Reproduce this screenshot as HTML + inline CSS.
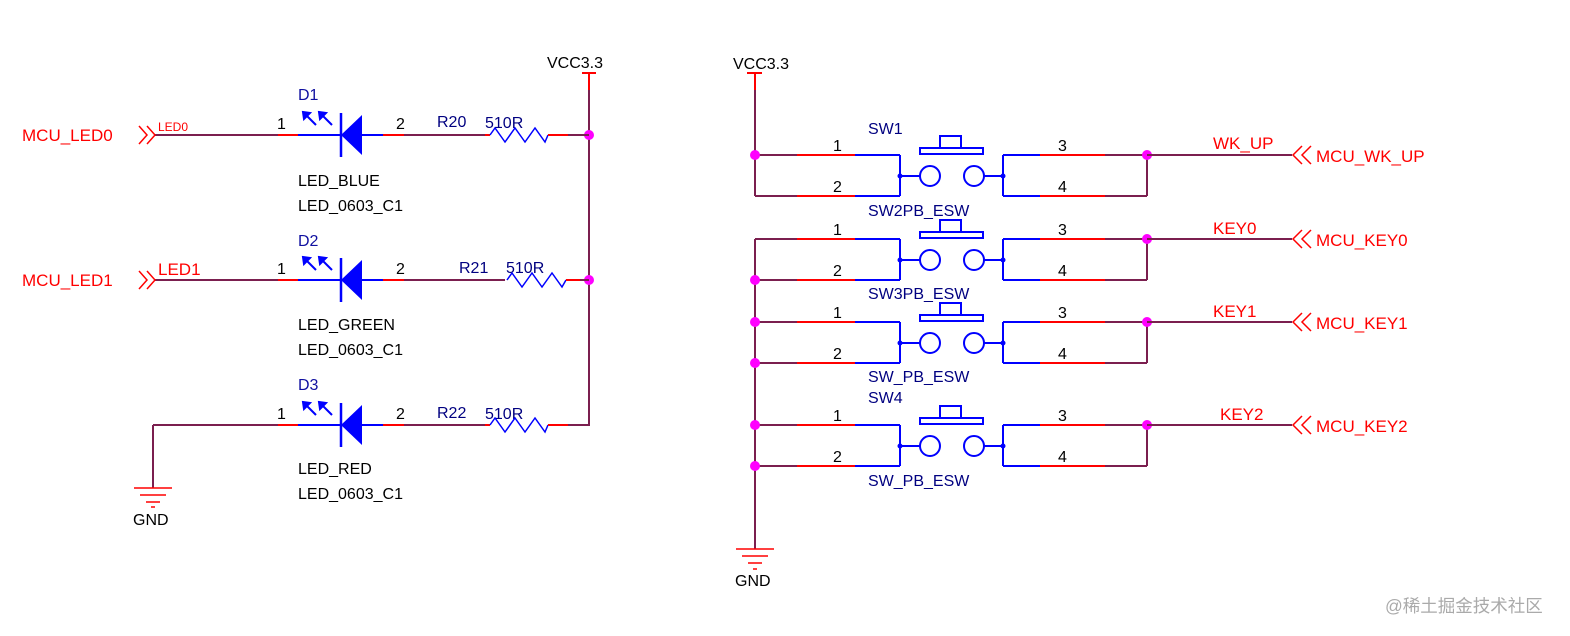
<!DOCTYPE html>
<html><head><meta charset="utf-8"><style>
body{margin:0;background:#fff;}
svg{display:block;font-family:"Liberation Sans",Arial,sans-serif;}
</style></head><body>
<svg width="1570" height="636" viewBox="0 0 1570 636" xmlns="http://www.w3.org/2000/svg">
<defs>
<g id="sw">
  <line x1="797" y1="0" x2="855" y2="0" stroke="#f00" stroke-width="2"/>
  <line x1="855" y1="0" x2="900" y2="0" stroke="#00f" stroke-width="2"/>
  <line x1="797" y1="41" x2="855" y2="41" stroke="#f00" stroke-width="2"/>
  <line x1="855" y1="41" x2="900" y2="41" stroke="#00f" stroke-width="2"/>
  <line x1="900" y1="0" x2="900" y2="41" stroke="#00f" stroke-width="2"/>
  <circle cx="900" cy="21" r="2.5" fill="#00f"/>
  <line x1="900" y1="21" x2="920" y2="21" stroke="#00f" stroke-width="2"/>
  <circle cx="930" cy="21" r="10" fill="none" stroke="#00f" stroke-width="2"/>
  <circle cx="974" cy="21" r="10" fill="none" stroke="#00f" stroke-width="2"/>
  <line x1="984" y1="21" x2="1003" y2="21" stroke="#00f" stroke-width="2"/>
  <circle cx="1003" cy="21" r="2.5" fill="#00f"/>
  <line x1="1003" y1="0" x2="1003" y2="41" stroke="#00f" stroke-width="2"/>
  <line x1="1003" y1="0" x2="1040" y2="0" stroke="#00f" stroke-width="2"/>
  <line x1="1040" y1="0" x2="1105" y2="0" stroke="#f00" stroke-width="2"/>
  <line x1="1003" y1="41" x2="1040" y2="41" stroke="#00f" stroke-width="2"/>
  <line x1="1040" y1="41" x2="1105" y2="41" stroke="#f00" stroke-width="2"/>
  <line x1="1105" y1="0" x2="1147" y2="0" stroke="#7b1f4f" stroke-width="2"/>
  <line x1="1105" y1="41" x2="1147" y2="41" stroke="#7b1f4f" stroke-width="2"/>
  <line x1="755" y1="0" x2="797" y2="0" stroke="#7b1f4f" stroke-width="2"/>
  <line x1="755" y1="41" x2="797" y2="41" stroke="#7b1f4f" stroke-width="2"/>
  <line x1="1147" y1="0" x2="1147" y2="41" stroke="#7b1f4f" stroke-width="2"/>
  <circle cx="1147" cy="0" r="5" fill="#f0f"/>
  <rect x="920" y="-7" width="63" height="6" fill="none" stroke="#00f" stroke-width="2"/>
  <rect x="940" y="-19" width="21" height="12" fill="none" stroke="#00f" stroke-width="2"/>
  <text x="833" y="-4" font-size="16">1</text>
  <text x="833" y="37" font-size="16">2</text>
  <text x="1058" y="-4" font-size="16">3</text>
  <text x="1058" y="37" font-size="16">4</text>
  <line x1="1147" y1="0" x2="1292" y2="0" stroke="#7b1f4f" stroke-width="2"/>
  <polyline points="1302,-9 1293,0 1302,9" fill="none" stroke="#f00" stroke-width="1.5"/>
  <polyline points="1311,-9 1302,0 1311,9" fill="none" stroke="#f00" stroke-width="1.5"/>
</g>
<g id="led">
  <line x1="155" y1="0" x2="278" y2="0" stroke="#7b1f4f" stroke-width="2"/>
  <line x1="278" y1="0" x2="298" y2="0" stroke="#f00" stroke-width="2"/>
  <line x1="298" y1="0" x2="341" y2="0" stroke="#00f" stroke-width="2"/>
  <line x1="341" y1="-22" x2="341" y2="22" stroke="#00f" stroke-width="2.5"/>
  <polygon points="341,0 362,-20 362,20" fill="#00f"/>
  <line x1="362" y1="0" x2="383" y2="0" stroke="#00f" stroke-width="2"/>
  <line x1="383" y1="0" x2="404" y2="0" stroke="#f00" stroke-width="2"/>
  <text x="277" y="-6" font-size="16">1</text>
  <text x="396" y="-6" font-size="16">2</text>
  <g stroke="#00f" stroke-width="2" fill="#00f">
    <line x1="306" y1="-20" x2="316" y2="-10"/><polygon points="303,-23 310,-22 304,-16"/>
    <line x1="322" y1="-20" x2="332" y2="-10"/><polygon points="319,-23 326,-22 320,-16"/>
  </g>
  <circle cx="589" cy="0" r="5" fill="#f0f"/>
</g>
</defs>

<text x="547" y="68" font-size="16">VCC3.3</text>
<line x1="582" y1="73" x2="596" y2="73" stroke="#f00" stroke-width="2"/>
<line x1="589" y1="73" x2="589" y2="90" stroke="#f00" stroke-width="2"/>
<line x1="589" y1="90" x2="589" y2="425" stroke="#7b1f4f" stroke-width="2"/>

<g transform="translate(0,135)"><use href="#led"/></g>
<text x="22" y="141" font-size="17" fill="#f00">MCU_LED0</text>
<polyline points="139,126 147,135 139,144" fill="none" stroke="#f00" stroke-width="1.5"/>
<polyline points="147,126 155,135 147,144" fill="none" stroke="#f00" stroke-width="1.5"/>
<text x="158" y="131" font-size="12" fill="#f00">LED0</text>
<text x="298" y="100" font-size="16" fill="#1010a0">D1</text>
<text x="437" y="127" font-size="16" fill="#000080">R20</text>
<text x="485" y="128" font-size="16" fill="#000080">510R</text>
<line x1="404" y1="135" x2="485" y2="135" stroke="#7b1f4f" stroke-width="2"/>
<line x1="485" y1="135" x2="490" y2="135" stroke="#f00" stroke-width="2"/>
<polyline points="490,135 495,128 505,142 515,128 525,142 535,128 545,142 548,135" fill="none" stroke="#00f" stroke-width="1.5"/>
<line x1="548" y1="135" x2="568" y2="135" stroke="#f00" stroke-width="2"/>
<line x1="568" y1="135" x2="589" y2="135" stroke="#7b1f4f" stroke-width="2"/>
<text x="298" y="186" font-size="16">LED_BLUE</text>
<text x="298" y="211" font-size="16">LED_0603_C1</text>

<g transform="translate(0,280)"><use href="#led"/></g>
<text x="22" y="286" font-size="17" fill="#f00">MCU_LED1</text>
<polyline points="139,271 147,280 139,289" fill="none" stroke="#f00" stroke-width="1.5"/>
<polyline points="147,271 155,280 147,289" fill="none" stroke="#f00" stroke-width="1.5"/>
<text x="158" y="275" font-size="17" fill="#f00">LED1</text>
<text x="298" y="246" font-size="16" fill="#1010a0">D2</text>
<text x="459" y="273" font-size="16" fill="#000080">R21</text>
<text x="506" y="273" font-size="16" fill="#000080">510R</text>
<line x1="404" y1="280" x2="505" y2="280" stroke="#7b1f4f" stroke-width="2"/>
<polyline points="507,280 512,273 522,287 532,273 542,287 552,273 562,287 566,280" fill="none" stroke="#00f" stroke-width="1.5"/>
<line x1="566" y1="280" x2="580" y2="280" stroke="#f00" stroke-width="2"/>
<line x1="580" y1="280" x2="589" y2="280" stroke="#7b1f4f" stroke-width="2"/>
<text x="298" y="330" font-size="16">LED_GREEN</text>
<text x="298" y="355" font-size="16">LED_0603_C1</text>

<g transform="translate(0,425)"><use href="#led"/></g>
<rect x="140" y="415" width="20" height="20" fill="#fff"/>
<line x1="153" y1="425" x2="278" y2="425" stroke="#7b1f4f" stroke-width="2"/>
<line x1="153" y1="425" x2="153" y2="488" stroke="#7b1f4f" stroke-width="2"/>
<circle cx="589" cy="425" r="6" fill="#fff"/>
<line x1="589" y1="418" x2="589" y2="426" stroke="#7b1f4f" stroke-width="2"/>
<g stroke="#f00" stroke-width="1.5">
<line x1="134" y1="488" x2="172" y2="488"/><line x1="140" y1="495" x2="166" y2="495"/>
<line x1="146" y1="502" x2="160" y2="502"/><line x1="151" y1="507" x2="155" y2="507"/></g>
<text x="133" y="525" font-size="16">GND</text>
<text x="298" y="390" font-size="16" fill="#1010a0">D3</text>
<text x="437" y="418" font-size="16" fill="#000080">R22</text>
<text x="485" y="419" font-size="16" fill="#000080">510R</text>
<line x1="404" y1="425" x2="485" y2="425" stroke="#7b1f4f" stroke-width="2"/>
<line x1="485" y1="425" x2="490" y2="425" stroke="#f00" stroke-width="2"/>
<polyline points="490,425 495,418 505,432 515,418 525,432 535,418 545,432 548,425" fill="none" stroke="#00f" stroke-width="1.5"/>
<line x1="548" y1="425" x2="568" y2="425" stroke="#f00" stroke-width="2"/>
<line x1="568" y1="425" x2="589" y2="425" stroke="#7b1f4f" stroke-width="2"/>
<text x="298" y="474" font-size="16">LED_RED</text>
<text x="298" y="499" font-size="16">LED_0603_C1</text>

<text x="733" y="69" font-size="16">VCC3.3</text>
<line x1="747" y1="73" x2="762" y2="73" stroke="#f00" stroke-width="2"/>
<line x1="755" y1="73" x2="755" y2="90" stroke="#f00" stroke-width="2"/>
<line x1="755" y1="90" x2="755" y2="196" stroke="#7b1f4f" stroke-width="2"/>
<line x1="755" y1="239" x2="755" y2="549" stroke="#7b1f4f" stroke-width="2"/>

<g transform="translate(0,155)"><use href="#sw"/></g>
<g transform="translate(0,239)"><use href="#sw"/></g>
<g transform="translate(0,322)"><use href="#sw"/></g>
<g transform="translate(0,425)"><use href="#sw"/></g>

<g fill="#f0f">
<circle cx="755" cy="155" r="5"/><circle cx="755" cy="280" r="5"/><circle cx="755" cy="322" r="5"/>
<circle cx="755" cy="363" r="5"/><circle cx="755" cy="425" r="5"/><circle cx="755" cy="466" r="5"/>
</g>

<g fill="#000080" font-size="16">
<text x="868" y="134">SW1</text>
<text x="868" y="216">SW2PB_ESW</text>
<text x="868" y="299">SW3PB_ESW</text>
<text x="868" y="382">SW_PB_ESW</text>
<text x="868" y="403">SW4</text>
<text x="868" y="486">SW_PB_ESW</text>
</g>

<g fill="#f00" font-size="17">
<text x="1213" y="149">WK_UP</text>
<text x="1316" y="162">MCU_WK_UP</text>
<text x="1213" y="234">KEY0</text>
<text x="1316" y="246">MCU_KEY0</text>
<text x="1213" y="317">KEY1</text>
<text x="1316" y="329">MCU_KEY1</text>
<text x="1220" y="420">KEY2</text>
<text x="1316" y="432">MCU_KEY2</text>
</g>

<g stroke="#f00" stroke-width="1.5">
<line x1="736" y1="549" x2="774" y2="549"/><line x1="742" y1="556" x2="768" y2="556"/>
<line x1="748" y1="563" x2="762" y2="563"/><line x1="753" y1="569" x2="757" y2="569"/></g>
<text x="735" y="586" font-size="16">GND</text>

<text x="1385" y="612" font-size="17.5" fill="#aaa" font-family="'Liberation Sans','Noto Sans CJK SC',sans-serif">@稀土掘金技术社区</text>
</svg>
</body></html>
